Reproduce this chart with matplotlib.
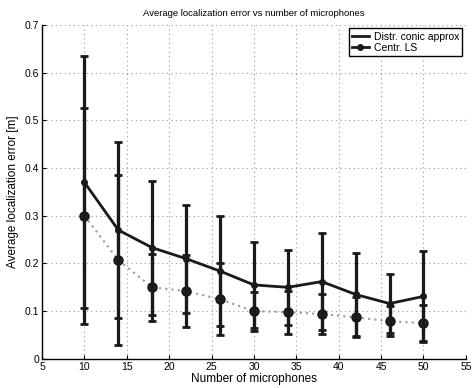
import matplotlib
matplotlib.use("Agg")
import matplotlib.pyplot as plt
from matplotlib.lines import Line2D

plt.rcParams['font.family'] = ['Liberation Sans', 'DejaVu Sans']

mics = [10, 14, 18, 22, 26, 30, 34, 38, 42, 46, 50]
distr_mean = [0.370, 0.270, 0.233, 0.210, 0.184, 0.155, 0.150, 0.162, 0.135, 0.116, 0.131]
distr_err = [0.264, 0.185, 0.140, 0.113, 0.115, 0.090, 0.078, 0.101, 0.087, 0.062, 0.095]
centr_mean = [0.300, 0.207, 0.150, 0.142, 0.125, 0.100, 0.098, 0.094, 0.087, 0.079, 0.075]
centr_err = [0.226, 0.178, 0.070, 0.076, 0.075, 0.041, 0.045, 0.042, 0.042, 0.032, 0.037]

fig = plt.figure(figsize=(4.72, 3.88), dpi=100)
ax = fig.add_axes([0.089, 0.075, 0.898, 0.861])

ax.errorbar(mics, centr_mean, yerr=centr_err, color='#9a9a9a', ls=(0, (1, 2)), lw=1.5,
            marker='o', markersize=6.5, mfc='#222222', mec='#111111',
            ecolor='#1a1a1a', elinewidth=2.3, capsize=3.2, capthick=2, zorder=3)
ax.errorbar(mics, distr_mean, yerr=distr_err, color='#1a1a1a', ls='-', lw=2,
            marker='o', markersize=4, mfc='#1a1a1a', mec='#1a1a1a',
            ecolor='#1a1a1a', elinewidth=2.3, capsize=3.2, capthick=2, zorder=4)

ax.set_xlim(5, 55)
ax.set_ylim(0, 0.7)
ax.set_xticks(range(5, 56, 5))
ax.set_yticks([0, 0.1, 0.2, 0.3, 0.4, 0.5, 0.6, 0.7])
ax.set_yticklabels(['0', '0.1', '0.2', '0.3', '0.4', '0.5', '0.6', '0.7'])
ax.grid(True, ls=(0, (1, 3)), color='#999999', lw=0.8)
ax.tick_params(direction='in', labelsize=7.5, length=3, width=0.8, pad=2)
for s in ['top', 'right']:
    ax.spines[s].set_visible(False)
for s in ['left', 'bottom']:
    ax.spines[s].set_linewidth(1.0)

ax.set_xlabel('Number of microphones', fontsize=8.5, labelpad=1)
ax.set_ylabel('Average localization error [m]', fontsize=8.5, labelpad=4)
ax.set_title('Average localization error vs number of microphones', fontsize=6.8, pad=6)

handles = [Line2D([], [], color='#1a1a1a', lw=2),
           Line2D([], [], color='#1a1a1a', lw=2, marker='o', markersize=4)]
leg = ax.legend(handles, ['Distr. conic approx', 'Centr. LS'], loc='upper right',
                fontsize=7.5, fancybox=False, edgecolor='black', framealpha=1,
                borderpad=0.3, labelspacing=0.1, handlelength=1.6, handletextpad=0.5,
                borderaxespad=0.35)
leg.get_frame().set_linewidth(1.0)

fig.savefig('out.png', dpi=100)
